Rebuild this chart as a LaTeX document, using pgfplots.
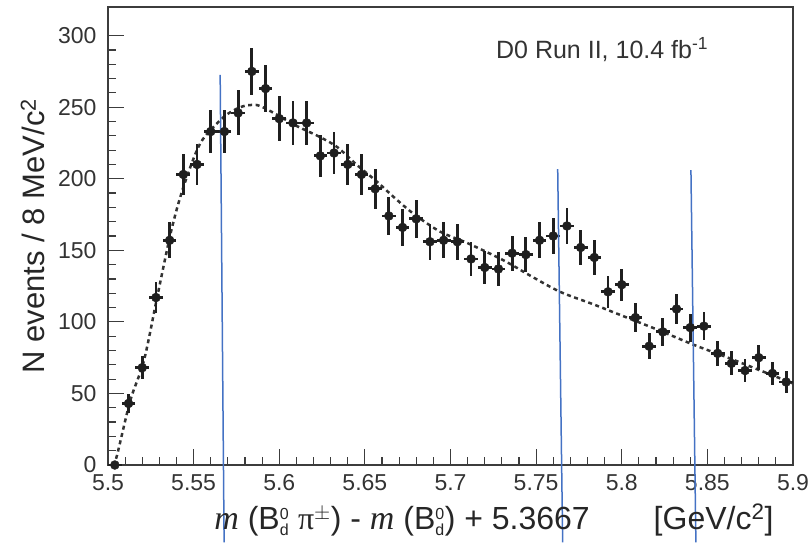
\documentclass[border=0pt]{standalone}
\usepackage{pgfplots}
\pgfplotsset{compat=1.18}
\usepackage{pgfplotstable}
\usepackage{amsmath}
\usepackage{fontspec}
\setmainfont{Liberation Sans}
\newfontfamily\serif{Liberation Serif}
\definecolor{bluel}{RGB}{68,114,196}
\definecolor{frame}{RGB}{60,60,60}

\pgfplotstableread{
x y ey
5.504 0 0
5.512 43 6.6
5.520 68 8.2
5.528 117 10.8
5.536 157 12.5
5.544 203 14.2
5.552 210 14.5
5.560 233 15.3
5.568 233 15.3
5.576 246 15.7
5.584 275 16.6
5.592 263 16.2
5.600 242 15.6
5.608 239 15.5
5.616 239 15.5
5.624 216 14.7
5.632 218 14.8
5.640 210 14.5
5.648 203 14.2
5.656 193 13.9
5.664 174 13.2
5.672 166 12.9
5.680 172 13.1
5.688 156 12.5
5.696 157 12.5
5.704 156 12.5
5.712 144 12.0
5.720 138 11.7
5.728 137 11.7
5.736 148 12.2
5.744 147 12.1
5.752 157 12.5
5.760 160 12.6
5.768 167 12.9
5.776 152 12.3
5.784 145 12.0
5.792 121 11.0
5.800 126 11.2
5.808 103 10.1
5.816 83 9.1
5.824 93 9.6
5.832 109 10.4
5.840 96 9.8
5.848 97 9.8
5.856 78 8.8
5.864 71 8.4
5.872 66 8.1
5.880 75 8.7
5.888 64 8.0
5.896 58 7.6
}\datatable

\pgfplotstableread{
x y
5.5025 0
5.505 5.6
5.513 45
5.521 73
5.529 119
5.537 164
5.544 194
5.554 225
5.5665 242
5.5737 248
5.580 251
5.587 251.5
5.592 249
5.599 244.5
5.610 237
5.624 229
5.634 222
5.645 210
5.657 198
5.668 186
5.679 175
5.694 163
5.710 155
5.731 143
5.747 132
5.764 121
5.784 112
5.803 103
5.822 94
5.842 84
5.862 75
5.881 66
5.900 57
}\fittable

\newcommand\Bd{B$^{\scriptscriptstyle\text{0}}_{\scriptscriptstyle\text{d}}$}

\begin{document}
\begin{tikzpicture}
\begin{axis}[
  at={(108pt,77pt)}, anchor=south west,
  scale only axis, width=685pt, height=458pt,
  xmin=5.5, xmax=5.9, ymin=0, ymax=320,
  clip=false,
  axis line style={frame, line width=1.3pt},
  xtick={5.5,5.55,5.6,5.65,5.7,5.75,5.8,5.85,5.9},
  xticklabels={5.5,5.55,5.6,5.65,5.7,5.75,5.8,5.85,5.9},
  ytick={0,50,100,150,200,250,300},
  yticklabels={0,50,100,150,200,250,300},
  minor x tick num=4, minor y tick num=4,
  tick align=inside, xtick pos=lower, ytick pos=left,
  major tick length=16pt, minor tick length=8pt,
  tick style={frame, line width=1.2pt},
  ticklabel style={font=\fontsize{23}{23}\selectfont, text=black!80},
  /pgf/number format/assume math mode=true,
  xticklabel style={yshift=-6pt},
  yticklabel style={xshift=-8pt},
  xlabel={{\fontsize{34}{34}\selectfont\serif\itshape m} (\Bd\ {\serif π}$^{\pm}$) - {\fontsize{34}{34}\selectfont\serif\itshape m} (\Bd) + 5.3667\hspace{64pt}[GeV/c$^{\text{2}}$]},
  xlabel style={at={(rel axis cs:0.9766,0)}, anchor=base east, yshift=-64pt, font=\fontsize{32}{32}\selectfont, text=black!85},
  ylabel={N events / 8 MeV/c$^{\text{2}}$},
  ylabel style={at={(rel axis cs:0,0.5)}, anchor=base, yshift=63pt, font=\fontsize{31}{31}\selectfont, text=black!85},
]
\addplot[color=black!80, line width=2.5pt, dash pattern=on 4pt off 3.5pt, smooth] table[x=x,y=y] {\fittable};
\addplot[only marks, mark=*, mark size=4.5pt, color=black!88,
  error bars/.cd, y dir=both, y explicit, x dir=both, x fixed=0.004,
  error mark=none, error bar style={line width=2.8pt, color=black!88}]
  table[x=x, y=y, y error=ey] {\datatable};
\node[anchor=base west, font=\fontsize{25}{25}\selectfont, text=black!80] at (axis cs:5.7246,284) {D0 Run II, 10.4 fb\textsuperscript{-1}};
\addplot[color=bluel, line width=1.5pt] coordinates {(5.5655,272.5) (5.5678,-54)};
\addplot[color=bluel, line width=1.5pt] coordinates {(5.7626,206.7) (5.7655,-54)};
\addplot[color=bluel, line width=1.5pt] coordinates {(5.8404,206) (5.8433,-54)};
\end{axis}
\pgfresetboundingbox
\useasboundingbox (0,0) rectangle (809pt,542pt);
\end{tikzpicture}
\end{document}
